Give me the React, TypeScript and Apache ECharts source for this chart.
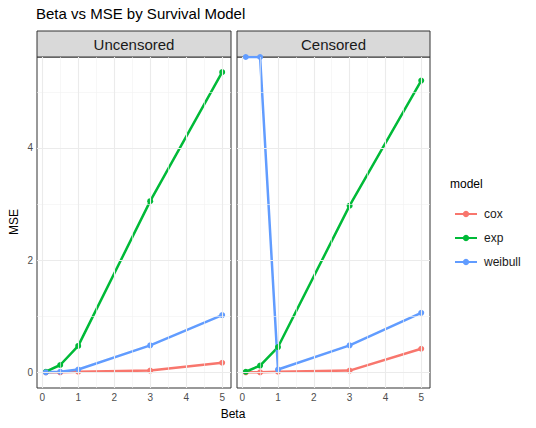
import { useEffect, useRef } from 'react';
import * as echarts from 'echarts';

const betas = [0.1, 0.5, 1, 3, 5];
const panels = ['Uncensored', 'Censored'];
const models = ['cox', 'exp', 'weibull'];
const colors = ['#F8766D', '#00BA38', '#619CFF'];
const uncensored = {
  cox: [0, 0, 0.01, 0.03, 0.17],
  exp: [0.01, 0.13, 0.47, 3.05, 5.35],
  weibull: [0, 0.01, 0.05, 0.48, 1.02],
};
const censored = {
  cox: [0, 0, 0.01, 0.03, 0.42],
  exp: [0.01, 0.12, 0.45, 2.97, 5.2],
  weibull: [5.62, 5.62, 0.05, 0.48, 1.06],
};
const xTicks = [0, 1, 2, 3, 4, 5];
const xMinor = [0.5, 1.5, 2.5, 3.5, 4.5];
const yTicks = [0, 2, 4];
const yMinor = [1, 3, 5];

const App = () => {
  const chartDom = useRef<HTMLDivElement | null>(null);

  useEffect(() => {
    if (!chartDom.current) return;
    const chart = echarts.init(chartDom.current, null, { renderer: 'svg' });
    const grids = [
      { left: 37, top: 57, width: 194, height: 331 },
      { left: 237, top: 57, width: 193, height: 331 },
    ];
    const font = 'Liberation Sans, Arial, sans-serif';
    const datasets = [uncensored, censored];

    const series: any[] = [];
    grids.forEach((_, gi) => {
      const line = (c: string, w = 1) => ({ lineStyle: { color: c, width: w, type: 'solid' } });
      series.push({
        type: 'line',
        xAxisIndex: gi,
        yAxisIndex: gi,
        data: [],
        silent: true,
        z: 0,
        markLine: {
          silent: true,
          symbol: 'none',
          label: { show: false },
          animation: false,
          data: [
            ...xMinor.map((v) => ({ xAxis: v, ...line('#F2F2F2', 0.6) })),
            ...yMinor.map((v) => ({ yAxis: v, ...line('#F2F2F2', 0.6) })),
            ...xTicks.map((v) => ({ xAxis: v, ...line('#EBEBEB', 1.1) })),
            ...yTicks.map((v) => ({ yAxis: v, ...line('#EBEBEB', 1.1) })),
          ],
        },
      });
      models.forEach((m, mi) => {
        series.push({
          name: m,
          type: 'line',
          xAxisIndex: gi,
          yAxisIndex: gi,
          data: betas.map((b, i) => [b, (datasets[gi] as any)[m][i]]),
          symbol: 'circle',
          symbolSize: 6,
          showSymbol: true,
          itemStyle: { color: colors[mi], borderWidth: 0 },
          lineStyle: { color: colors[mi], width: 2.5 },
          z: 2,
        });
      });
    });

    const option = {
      animation: false,
      backgroundColor: '#fff',
      textStyle: { fontFamily: font },
      grid: grids.map((g) => ({
        ...g,
        show: true,
        borderColor: '#333',
        borderWidth: 1,
        backgroundColor: '#fff',
      })),
      xAxis: grids.map((_, gi) => ({
        type: 'value',
        gridIndex: gi,
        min: -0.145,
        max: 5.245,
        axisLine: { show: false },
        splitLine: { show: false },
        axisTick: { show: true, customValues: xTicks, length: 3, lineStyle: { color: '#333' } },
        axisLabel: { customValues: xTicks, color: '#4D4D4D', fontSize: 10, margin: 4 },
      })),
      yAxis: grids.map((_, gi) => ({
        type: 'value',
        gridIndex: gi,
        min: -0.28,
        max: 5.62,
        axisLine: { show: false },
        splitLine: { show: false },
        axisTick: { show: gi === 0, customValues: yTicks, length: 3, lineStyle: { color: '#333' } },
        axisLabel: { show: gi === 0, customValues: yTicks, color: '#4D4D4D', fontSize: 10, margin: 4 },
      })),
      legend: {
        data: models,
        orient: 'vertical',
        left: 449,
        top: 203,
        itemGap: 12,
        itemWidth: 22,
        itemHeight: 8,
        textStyle: { fontSize: 12, color: '#1A1A1A', padding: [0, 0, 0, 2] },
        itemStyle: { borderWidth: 0 },
      },
      series,
      graphic: [
        { type: 'text', left: 36, top: 6, style: { text: 'Beta vs MSE by Survival Model', fontSize: 15, fill: '#000', fontFamily: font } },
        ...grids.flatMap((g, gi) => [
          { type: 'rect', shape: { x: g.left, y: 31, width: g.width, height: 26 }, style: { fill: '#D9D9D9', stroke: '#333', lineWidth: 1 } },
          {
            type: 'text',
            x: g.left + g.width / 2,
            y: 44,
            style: { text: panels[gi], fontSize: 15, fill: '#1A1A1A', align: 'center', verticalAlign: 'middle', fontFamily: font },
          },
        ]),
        { type: 'text', x: 233, y: 408, style: { text: 'Beta', fontSize: 12, fill: '#000', align: 'center', fontFamily: font } },
        { type: 'text', x: 8, y: 222, rotation: Math.PI / 2, style: { text: 'MSE', fontSize: 12, fill: '#000', align: 'center', verticalAlign: 'top', fontFamily: font } },
        { type: 'text', left: 450, top: 178, style: { text: 'model', fontSize: 12, fill: '#000', fontFamily: font } },
      ],
    };

    chart.setOption(option);
    return () => {
      chart.dispose();
    };
  }, []);

  return <div ref={chartDom} style={{ width: 536, height: 428, margin: -8 }} />;
};

export default App;
